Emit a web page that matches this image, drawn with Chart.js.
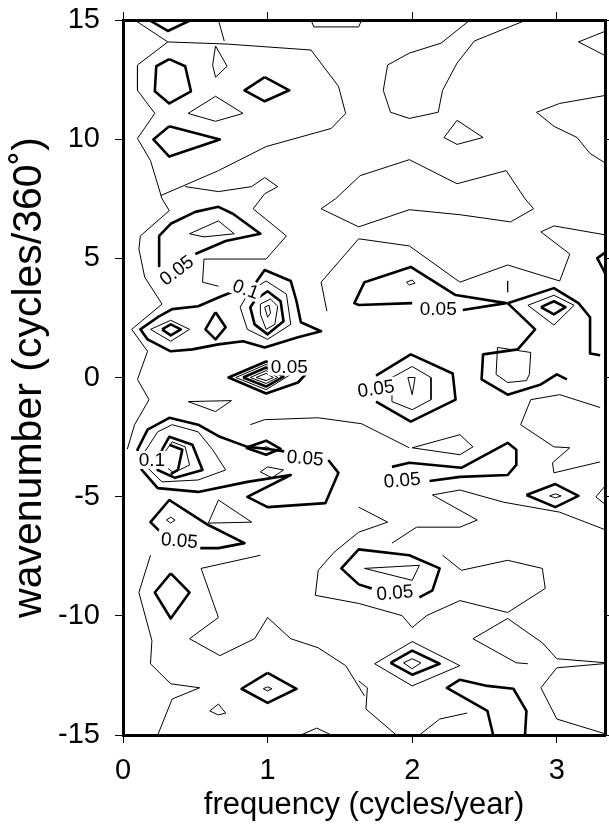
<!DOCTYPE html>
<html>
<head>
<meta charset="utf-8">
<script src="https://cdn.jsdelivr.net/npm/chart.js@4/dist/chart.umd.min.js"></script>
<style>
  html, body { margin: 0; padding: 0; background: #fff; }
</style>
</head>
<body>
<canvas id="chart-spectrum" width="609" height="828"></canvas>
<script>
// axis ranges and ticks
const freqRange = [0, 10 / 3];
const waveRange = [-15, 15];
const freqTicks = [0, 1, 2, 3];
const waveTicks = [-15, -10, -5, 0, 5, 10, 15];

// contour lines as [frequency, wavenumber] pairs
// thin lines
const thinTopLeft = [[0.08,15],[0.31,14.08],[0.72,13.99],[1.30,13.74],[1.49,12.22],[1.54,11.08],[1.44,10.45],[0.99,9.69],[0.66,8.68],[0.26,7.63]];
const thinLeftEdge = [[0.31,14.08],[0.10,13.11],[0.10,12.05],[0.22,11.08],[0.10,10.03],[0.19,9.10],[0.27,7.50],[0.32,7.00],[0.12,5.94],[0.11,5.39],[0.15,4.21],[0.27,3.08],[0.06,2.02],[0.17,1.10],[0.10,-0.08],[0.18,-0.93],[0.08,-1.98],[0.03,-3.0]];
const thinTopStub = [[0.66,15],[0.70,14.12]];
const thinTopCap = [[1.30,15],[1.32,14.71],[1.63,14.71],[1.65,15]];
const thinKite = [[0.64,13.91],[0.72,13.06],[0.64,12.60],[0.62,13.11],[0.64,13.91]];
const thinDiamond11 = [[0.64,11.80],[0.83,11.08],[0.64,10.75],[0.45,11.08],[0.64,11.80]];
const thinBranch8 = [[0.43,8.01],[0.66,7.80],[0.89,8.01],[0.98,8.39],[1.07,8.01],[0.98,7.71],[0.90,7.08],[1.13,5.94],[0.99,4.97],[0.56,4.97],[0.55,4.00],[0.66,3.83]];
const thinU = [[2.40,15],[2.20,14.03],[1.98,13.61],[1.83,13.11],[1.80,12.05],[1.85,11.13],[1.98,10.87],[2.18,11.13],[2.21,12.05],[2.31,13.19],[2.43,14.12],[2.79,15]];
const thinRightTop = [[3.34,14.54],[3.15,14.08],[3.34,13.49]];
const thinRight11 = [[3.34,11.84],[3.02,11.50],[2.86,11.13],[2.98,10.54],[3.14,10.07],[3.23,9.40],[3.34,8.98]];
const thinTri10 = [[2.31,10.79],[2.49,10.07],[2.31,9.78],[2.22,10.07],[2.31,10.79]];
const thinLoop7 = [[1.64,8.47],[1.98,9.14],[2.31,8.13],[2.65,8.68],[2.78,7.50],[2.84,7.08],[2.68,6.53],[2.33,6.83],[1.98,7.04],[1.63,6.32],[1.37,7.08],[1.47,7.50],[1.64,8.47]];
const thinInner6 = [[0.46,6.03],[0.66,6.57],[0.77,6.03],[0.56,5.90],[0.46,6.03]];
const thinBand5 = [[3.34,5.98],[2.98,6.36],[2.89,6.11],[3.09,5.18],[3.02,4.05],[2.66,4.72],[2.33,4.00],[1.98,5.52],[1.63,5.82],[1.37,4.00],[1.41,2.78]];
const thinRing2a = [[0.19,2.02],[0.33,2.40],[0.46,2.02],[0.33,1.52],[0.19,2.02]];
const thinRing3a = [[0.90,3.71],[0.99,4.05],[1.13,3.50],[1.16,2.23],[1.00,1.60],[0.86,2.02],[0.81,2.95],[0.85,3.37],[0.90,3.71]];
const thinRing3b = [[0.95,3.08],[1.02,3.29],[1.07,2.99],[1.05,2.23],[0.99,2.02],[0.95,2.65],[0.95,3.08]];
const thinRing3c = [[0.98,2.95],[1.01,3.03],[1.02,2.70],[1.00,2.53],[0.98,2.95]];
const thinRing0a = [[0.78,0],[0.99,0.55],[1.16,0.13],[0.99,-0.51],[0.78,0]];
const thinRing0b = [[0.88,0],[0.99,0.29],[1.07,0],[0.99,-0.25],[0.88,0]];
const thinRing0c = [[0.92,0],[0.99,0.17],[1.04,0],[0.99,-0.13],[0.92,0]];
const thinDot3 = [[1.96,4.00],[2.00,4.09],[2.02,3.96],[1.98,3.88],[1.96,4.00]];
const thinTick3 = [[2.66,4.05],[2.66,3.58]];
const thinRing3r = [[2.80,3.03],[2.98,3.45],[3.12,3.03],[2.98,2.20],[2.80,3.03]];
const thinSmall0 = [[2.59,1.26],[2.82,1.05],[2.81,0.13],[2.79,-0.13],[2.66,-0.21],[2.58,0.13],[2.59,1.26]];
const thinInner0 = [[1.86,0],[2.00,0.46],[2.13,0],[2.13,-0.93],[2.00,-1.35],[1.86,-1.01],[1.86,0]];
const thinTear0 = [[1.97,0],[2.02,0],[2.00,-0.72],[1.97,0]];
const thinQuad1 = [[0.45,-1.01],[0.75,-0.97],[0.64,-1.43],[0.45,-1.01]];
const thinMidRow = [[0.88,-1.98],[0.98,-1.77],[1.35,-1.69],[1.65,-1.94],[1.98,-2.95]];
const thinQuad3 = [[2.00,-2.95],[2.33,-2.40],[2.42,-2.91],[2.33,-3.24],[2.00,-2.95]];
const thinRightMid = [[3.30,-1.26],[3.02,-0.72],[2.82,-0.93],[2.75,-1.98],[2.98,-2.91],[3.09,-2.95],[2.97,-3.58],[2.98,-4.00],[3.30,-3.54]];
const thinRightEdge5 = [[3.34,-4.51],[3.27,-5.01],[3.34,-5.35]];
const thinPeakOuter = [[0.15,-3.12],[0.24,-2.28],[0.34,-1.98],[0.52,-2.28],[0.62,-3.03],[0.71,-3.88],[0.52,-4.30],[0.27,-4.38],[0.17,-3.79],[0.15,-3.12]];
const thinPeakInner = [[0.29,-3.12],[0.34,-2.70],[0.43,-2.91],[0.46,-3.67],[0.35,-4.00],[0.28,-3.67],[0.29,-3.12]];
const thinDot3a = [[0.96,-2.99],[0.99,-2.90],[1.02,-2.99],[0.99,-3.05],[0.96,-2.99]];
const thinSmall4 = [[0.95,-3.96],[1.00,-3.75],[1.11,-3.88],[1.03,-4.21],[0.95,-3.96]];
const thinTri5 = [[0.66,-5.14],[0.89,-6.07],[0.59,-6.11],[0.66,-5.14]];
const thinDot6 = [[0.30,-5.98],[0.33,-5.86],[0.36,-5.98],[0.33,-6.11],[0.30,-5.98]];
const thinDot5r = [[2.95,-4.97],[2.99,-4.88],[3.03,-4.97],[2.99,-5.05],[2.95,-4.97]];
const thinLow5a = [[2.14,-4.93],[2.33,-4.72],[2.63,-5.23],[3.02,-5.65],[3.34,-6.40]];
const thinLow5b = [[2.14,-4.93],[2.45,-5.98],[2.33,-6.28],[2.03,-6.28],[1.86,-6.95]];
const thinLow9 = [[1.63,-5.44],[1.83,-6.07],[1.63,-6.49],[1.46,-7.33],[1.35,-8.09],[1.33,-9.14],[1.63,-9.48],[1.93,-9.99],[2.00,-10.49],[2.10,-9.99],[2.33,-9.36],[2.66,-9.86],[2.92,-8.85],[2.90,-8.01],[2.66,-7.67],[2.34,-8.09],[2.21,-7.46]];
const thinInner8 = [[1.67,-8.01],[2.05,-7.88],[2.00,-8.51],[1.67,-8.01]];
const thinV11 = [[3.34,-11.97],[3.00,-11.80],[2.90,-11.13],[2.66,-10.11],[2.42,-10.96],[2.72,-11.97],[2.80,-12.01]];
const thinDiamond12o = [[1.74,-12.01],[2.00,-11.08],[2.33,-12.09],[2.00,-12.94],[1.74,-12.01]];
const thinDiamond12i = [[1.94,-11.97],[2.00,-11.80],[2.06,-11.97],[2.00,-12.22],[1.94,-11.97]];
const thinRightLow = [[3.34,-12.00],[3.00,-12.18],[2.89,-13.02],[3.00,-14.33],[3.34,-14.96]];
const thinBottom1 = [[1.63,-12.73],[1.69,-13.02],[1.68,-13.91],[1.89,-15]];
const thinBottom2 = [[2.05,-15],[2.19,-14.33],[2.38,-14.08]];
const thinLeftLow = [[0.19,-7.46],[0.11,-9.02],[0.20,-11.04],[0.19,-12.01],[0.33,-12.85],[0.53,-13.02],[0.34,-13.49],[0.24,-15]];
const thinMidLow = [[0.95,-7.46],[0.54,-8.01],[0.66,-10.07],[0.46,-10.96],[0.67,-11.67],[0.91,-10.96],[1.00,-10.07],[1.16,-10.96],[1.35,-11.34],[1.54,-12.09],[1.67,-13.36]];
const thinDot13 = [[0.97,-13.06],[1.00,-12.98],[1.03,-13.06],[1.00,-13.15],[0.97,-13.06]];
const thinTri14 = [[0.60,-13.99],[0.66,-13.70],[0.71,-14.08],[0.66,-14.16],[0.60,-13.99]];
const thinBottom3 = [[1.23,-15],[1.34,-14.71],[1.44,-15]];

// thick lines
const thickTopV = [[0.18,15],[0.31,14.54],[0.47,15]];
const thickHex13 = [[0.32,13.36],[0.43,13.06],[0.47,12.01],[0.32,11.50],[0.22,12.01],[0.23,13.06],[0.32,13.36]];
const thickDiamond12 = [[0.98,12.60],[1.15,12.05],[0.98,11.59],[0.84,12.05],[0.98,12.60]];
const thickTri10 = [[0.32,10.54],[0.67,9.99],[0.32,9.27],[0.21,9.99],[0.32,10.54]];
const thickLoop6 = [[0.50,5.18],[0.71,5.73],[0.95,6.03],[0.76,6.87],[0.66,7.16],[0.50,6.95],[0.33,6.45],[0.25,5.94],[0.25,4.68]];
const thickRing2a = [[0.27,2.02],[0.33,2.23],[0.40,2.02],[0.33,1.77],[0.27,2.02]];
const thickKite2 = [[0.64,2.74],[0.71,2.11],[0.64,1.60],[0.57,2.02],[0.64,2.74]];
const thickRing3o = [[0.92,4.00],[0.98,4.51],[1.16,4.05],[1.20,3.20],[1.23,2.32],[1.37,1.94],[1.21,1.69],[0.98,1.26],[0.83,1.52],[0.66,1.39],[0.48,1.18],[0.33,1.10],[0.17,1.60],[0.12,2.02],[0.24,2.53],[0.34,2.87],[0.52,2.99],[0.68,3.41],[0.77,3.62]];
const thickRing3i = [[0.92,3.29],[1.00,3.62],[1.09,3.20],[1.11,2.36],[1.00,1.81],[0.91,2.23],[0.88,2.95],[0.92,3.29]];
const thickRing0 = [[1.28,0.25],[1.21,-0.21],[0.99,-0.67],[0.73,0],[0.99,0.67],[1.04,0.59]];
const thickRing0i = [[0.83,0],[0.99,0.42],[1.11,0.04],[0.99,-0.38],[0.83,0]];
const thickLoop3 = [[2.00,3.12],[1.63,3.04],[1.60,3.12],[1.67,4.00],[1.99,4.64],[2.30,3.46],[2.65,3.12],[2.35,2.83]];
const thickRight3 = [[2.66,3.12],[2.98,3.75],[3.15,3.12],[3.23,2.53],[3.23,1.01],[3.30,0.93]];
const thickDown3 = [[2.66,3.12],[2.85,2.02],[2.73,1.18],[2.49,0.97],[2.48,-0.08],[2.66,-0.72],[2.89,-0.29],[3.00,0.13],[3.07,-0.08]];
const thickDiamond3 = [[2.89,2.95],[2.98,3.20],[3.06,2.95],[2.98,2.65],[2.89,2.95]];
const thickEdge5 = [[3.34,5.27],[3.28,5.01],[3.34,4.30]];
const thickLoop0 = [[1.75,0.08],[1.99,0.97],[2.28,0.17],[2.30,-0.93],[1.99,-1.85],[1.75,-1.01]];
const thickPeak5 = [[1.14,-3.12],[0.99,-2.99],[0.86,-2.91],[0.67,-2.49],[0.52,-1.98],[0.32,-1.69],[0.17,-2.19],[0.10,-3.03],[0.13,-3.88],[0.24,-4.64],[0.52,-4.80],[0.86,-4.38],[1.16,-4.09],[0.86,-5.01],[1.00,-5.44],[1.40,-5.27],[1.49,-4.00],[1.42,-3.46]];
const thickPeak10 = [[0.27,-3.03],[0.32,-2.49],[0.48,-2.82],[0.55,-3.88],[0.36,-4.21],[0.24,-3.88],[0.27,-3.03]];
const thickPeakCore = [[0.32,-2.82],[0.41,-3.03],[0.38,-3.88],[0.33,-4.05]];
const thickDiamond3a = [[0.85,-2.95],[0.99,-2.65],[1.09,-2.99],[0.99,-3.24],[0.85,-2.95]];
const thickLoop6l = [[0.52,-7.16],[0.66,-7.16],[0.84,-6.95],[0.59,-6.19],[0.45,-5.65],[0.32,-5.14],[0.19,-6.07],[0.26,-6.49]];
const thickLoop4r = [[2.12,-4.34],[2.33,-4.17],[2.66,-4.09],[2.72,-3.67],[2.72,-3.03],[2.66,-2.74],[2.34,-3.79],[1.98,-3.58],[1.86,-3.75]];
const thickDiamond5 = [[2.79,-4.93],[2.99,-4.47],[3.15,-4.97],[2.99,-5.44],[2.79,-4.93]];
const thickLoop8 = [[1.72,-8.85],[1.63,-8.68],[1.51,-8.01],[1.63,-7.21],[1.98,-7.46],[2.19,-8.01],[2.14,-8.93],[2.05,-9.23]];
const thickDiamond9 = [[0.33,-8.22],[0.46,-9.02],[0.33,-10.11],[0.22,-9.02],[0.33,-8.22]];
const thickDiamond12b = [[1.85,-11.97],[2.00,-11.46],[2.19,-12.01],[2.00,-12.47],[1.85,-11.97]];
const thickU13 = [[2.56,-15],[2.52,-13.99],[2.24,-13.02],[2.33,-12.68],[2.52,-12.94],[2.70,-13.06],[2.79,-13.99],[2.78,-15]];
const thickDiamond13 = [[1.00,-12.39],[1.20,-13.06],[1.00,-13.65],[0.82,-13.06],[1.00,-12.39]];

const thinContours = [thinTopLeft, thinLeftEdge, thinTopStub, thinTopCap, thinKite, thinDiamond11,
  thinBranch8, thinU, thinRightTop, thinRight11, thinTri10, thinLoop7, thinInner6, thinBand5,
  thinRing2a, thinRing3a, thinRing3b, thinRing3c, thinRing0a, thinRing0b, thinRing0c, thinDot3,
  thinTick3, thinRing3r, thinSmall0, thinInner0, thinTear0, thinQuad1, thinMidRow, thinQuad3,
  thinRightMid, thinRightEdge5, thinPeakOuter, thinPeakInner, thinDot3a, thinSmall4, thinTri5,
  thinDot6, thinDot5r, thinLow5a, thinLow5b, thinLow9, thinInner8, thinV11, thinDiamond12o,
  thinDiamond12i, thinRightLow, thinBottom1, thinBottom2, thinLeftLow, thinMidLow, thinDot13,
  thinTri14, thinBottom3];
const thickContours = [thickTopV, thickHex13, thickDiamond12, thickTri10, thickLoop6, thickRing2a,
  thickKite2, thickRing3o, thickRing3i, thickRing0, thickRing0i, thickLoop3, thickRight3, thickDown3,
  thickDiamond3, thickEdge5, thickLoop0, thickPeak5, thickPeak10, thickPeakCore, thickDiamond3a,
  thickLoop6l, thickLoop4r, thickDiamond5, thickLoop8, thickDiamond9, thickDiamond12b, thickU13,
  thickDiamond13];

// contour annotations
const labelValues = ['0.05', '0.1', '0.05', '0.05', '0.05', '0.1', '0.05', '0.05', '0.05', '0.05'];
const labelPoints = [[0.37,4.50],[0.85,3.71],[1.15,0.46],[2.18,2.87],[1.75,-0.46],[0.20,-3.46],[1.26,-3.37],[1.93,-4.30],[0.39,-6.83],[1.88,-9.02]];
const labelAngles = [-37, 20, 0, 0, -8, 0, 5, -5, 5, -5];

function toPoints(line) {
    return line.map(p => ({ x: p[0], y: p[1] }));
}

let datasets = [];
thinContours.forEach(function (line) {
    datasets.push({ data: toPoints(line), borderWidth: 1, borderColor: '#000' });
});
thickContours.forEach(function (line) {
    datasets.push({ data: toPoints(line), borderWidth: 2.6, borderColor: '#000' });
});
datasets.forEach(function (ds) {
    ds.showLine = true;
    ds.pointRadius = 0;
    ds.tension = 0;
    ds.fill = false;
    ds.borderJoinStyle = 'round';
});

// draws the contour values along the lines
const contourLabelPlugin = {
    id: 'contourLabels',
    afterDatasetsDraw(chart) {
        const ctx = chart.ctx;
        const xs = chart.scales.x;
        const ys = chart.scales.y;
        ctx.save();
        ctx.font = '19px "Liberation Sans", Arial, sans-serif';
        ctx.textAlign = 'center';
        ctx.textBaseline = 'middle';
        labelValues.forEach(function (txt, i) {
            const px = xs.getPixelForValue(labelPoints[i][0]);
            const py = ys.getPixelForValue(labelPoints[i][1]);
            const w = ctx.measureText(txt).width;
            ctx.save();
            ctx.translate(px, py);
            ctx.rotate(labelAngles[i] * Math.PI / 180);
            ctx.fillStyle = '#fff';
            ctx.fillRect(-w / 2 - 3, -9, w + 6, 18);
            ctx.fillStyle = '#000';
            ctx.fillText(txt, 0, 1);
            ctx.restore();
        });
        ctx.restore();
    }
};

Chart.defaults.font.family = '"Liberation Sans", Arial, Helvetica, sans-serif';
Chart.defaults.color = '#000';

const tickGrid = { drawOnChartArea: false, drawTicks: true, tickLength: 8, color: '#000', lineWidth: 1 };
const frame = { display: true, width: 3, color: '#000' };

// keep the plot frame fixed: no extra room for the end labels
function noPad(s) {
    s.paddingTop = 0;
    s.paddingBottom = 0;
    s.paddingLeft = 0;
    s.paddingRight = 0;
}

const ctx = document.getElementById('chart-spectrum').getContext('2d');
const chart = new Chart(ctx, {
    type: 'scatter',
    data: { datasets: datasets },
    options: {
        responsive: false,
        animation: false,
        layout: { padding: 0 },
        plugins: { legend: { display: false }, tooltip: { enabled: false } },
        scales: {
            x: {
                type: 'linear', position: 'bottom',
                min: freqRange[0], max: freqRange[1],
                afterBuildTicks: s => { s.ticks = freqTicks.map(v => ({ value: v })); },
                afterFit: s => { s.height = 93; noPad(s); },
                grid: tickGrid, border: frame,
                ticks: { font: { size: 29 }, padding: 11, maxRotation: 0, callback: v => v },
                title: { display: true, text: 'frequency (cycles/year)', font: { size: 31 }, padding: { top: 0, bottom: 4 } }
            },
            y: {
                type: 'linear', position: 'left',
                min: waveRange[0], max: waveRange[1],
                afterBuildTicks: s => { s.ticks = waveTicks.map(v => ({ value: v })); },
                afterFit: s => { s.width = 123; noPad(s); },
                grid: tickGrid, border: frame,
                ticks: { font: { size: 29 }, padding: 15, callback: v => v },
                title: { display: true, text: 'wavenumber (cycles/360˚)', font: { size: 41 }, padding: { top: 5, bottom: 0 } }
            },
            xTop: {
                type: 'linear', position: 'top',
                min: freqRange[0], max: freqRange[1],
                afterBuildTicks: s => { s.ticks = freqTicks.map(v => ({ value: v })); },
                afterFit: s => { s.height = 20; noPad(s); },
                grid: tickGrid, border: frame,
                ticks: { display: false }
            },
            yRight: {
                type: 'linear', position: 'right',
                min: waveRange[0], max: waveRange[1],
                afterBuildTicks: s => { s.ticks = waveTicks.map(v => ({ value: v })); },
                afterFit: s => { s.width = 4; noPad(s); },
                grid: tickGrid, border: frame,
                ticks: { display: false }
            }
        }
    },
    plugins: [contourLabelPlugin]
});
</script>
</body>
</html>
